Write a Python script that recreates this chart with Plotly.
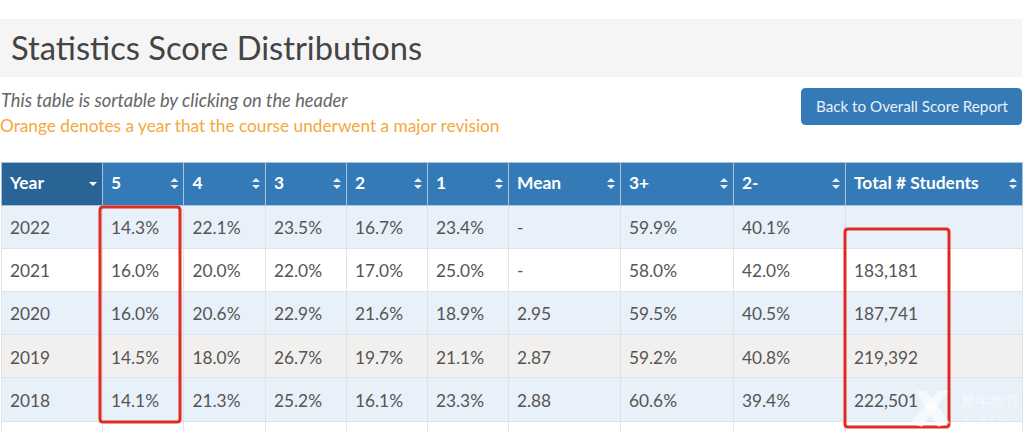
import plotly.graph_objs as go

W = 1024
H = 431

# table contents
headers = ["Year", "5", "4", "3", "2", "1", "Mean", "3+", "2-", "Total # Students"]
years = ["2022", "2021", "2020", "2019", "2018", ""]
score_5 = ["14.3%", "16.0%", "16.0%", "14.5%", "14.1%", ""]
score_4 = ["22.1%", "20.0%", "20.6%", "18.0%", "21.3%", ""]
score_3 = ["23.5%", "22.0%", "22.9%", "26.7%", "25.2%", ""]
score_2 = ["16.7%", "17.0%", "21.6%", "19.7%", "16.1%", ""]
score_1 = ["23.4%", "25.0%", "18.9%", "21.1%", "23.3%", ""]
means = ["-", "-", "2.95", "2.87", "2.88", ""]
pass_rate = ["59.9%", "58.0%", "59.5%", "59.2%", "60.6%", ""]
fail_rate = ["40.1%", "42.0%", "40.5%", "40.8%", "39.4%", ""]
students = ["", "183,181", "187,741", "219,392", "222,501", ""]
columns = [years, score_5, score_4, score_3, score_2, score_1, means, pass_rate, fail_rate, students]

col_widths = [101, 81.5, 81.5, 81, 81, 81, 112, 113, 112, 177]
row_colors = ["#e8f0f9", "#ffffff", "#e8f0f9", "#f1f0ee", "#e8f0f9", "#ffffff"]

TEXT = "#555555"
FONT = "Lato"
CLEAR = "rgba(0,0,0,0)"


# pixel positions from the top left -> paper coords
def px(x):
    return x / W


def py(y):
    return 1 - y / H


def rect(x0, y0, x1, y1, **kw):
    return dict(type="rect", xref="paper", yref="paper",
                x0=px(x0), x1=px(x1), y0=py(y0), y1=py(y1), **kw)


def label(x, y, text, size, color, **kw):
    return dict(xref="paper", yref="paper", x=px(x), y=py(y), text=text,
                showarrow=False, xanchor="left", yanchor="middle",
                font=dict(family=FONT, size=size, color=color), **kw)


def rounded(x0, y0, x1, y1, r):
    p = (f"M {px(x0 + r)} {py(y0)} L {px(x1 - r)} {py(y0)} "
         f"Q {px(x1)} {py(y0)} {px(x1)} {py(y0 + r)} L {px(x1)} {py(y1 - r)} "
         f"Q {px(x1)} {py(y1)} {px(x1 - r)} {py(y1)} L {px(x0 + r)} {py(y1)} "
         f"Q {px(x0)} {py(y1)} {px(x0)} {py(y1 - r)} L {px(x0)} {py(y0 + r)} "
         f"Q {px(x0)} {py(y0)} {px(x0 + r)} {py(y0)} Z")
    return p


def triangle(cx, cy, half, height):
    # height > 0 points up
    return (f"M {px(cx - half)} {py(cy)} L {px(cx + half)} {py(cy)} "
            f"L {px(cx)} {py(cy - height)} Z")


def path_shape(path, **kw):
    return dict(type="path", xref="paper", yref="paper", path=path, **kw)


# colours and grid lines only
grid_table = go.Table(
    domain=dict(x=[px(1), px(1022)], y=[0, py(162)]),
    columnwidth=col_widths,
    header=dict(
        values=[""] * 10,
        height=43,
        fill_color=["#2a6496"] + ["#337ab7"] * 9,
        line=dict(color="#a9c4dd", width=1),
    ),
    cells=dict(
        values=[[""] * 6] * 10,
        height=43.2,
        fill_color=[row_colors] * 10,
        line=dict(color="#dfe3e8", width=1),
    ),
)

# the text sits in its own clear table, plotly keeps cell text near the top of the row
text_table = go.Table(
    domain=dict(x=[px(2), px(1023)], y=[0, py(164)]),
    columnwidth=col_widths,
    header=dict(
        values=[f"<b>{h}</b>" for h in headers],
        height=49,
        align="left",
        fill_color=CLEAR,
        line=dict(color=CLEAR, width=0),
        font=dict(family=FONT, size=17.4, color="#ffffff"),
    ),
    cells=dict(
        values=columns,
        height=43.2,
        align="left",
        fill_color=CLEAR,
        line=dict(color=CLEAR, width=0),
        font=dict(family=FONT, size=17.3, color=TEXT),
    ),
)

fig = go.Figure(data=[grid_table, text_table])

shapes = [
    rect(0, 19, 1022, 77, fillcolor="#f5f5f5", line_width=0, layer="below"),
    path_shape(rounded(801, 88, 1022, 125, 5), fillcolor="#337ab7", line_width=0),
]

# sort arrows in the header
edges = [1]
for w in col_widths:
    edges.append(edges[-1] + w)
for i in range(10):
    cx = edges[i + 1] - 9
    if i == 0:
        shapes.append(path_shape(triangle(cx, 182, 4, -4), fillcolor="#ffffff", line_width=0))
    else:
        shapes.append(path_shape(triangle(cx, 182, 4, 4), fillcolor="#e6eef6", line_width=0))
        shapes.append(path_shape(triangle(cx, 185, 4, -4), fillcolor="#e6eef6", line_width=0))

# red hand-drawn boxes
shapes.append(path_shape(rounded(100, 207, 180, 422, 3), line=dict(color="#e02b20", width=3)))
shapes.append(path_shape(rounded(845, 229, 949, 427, 3), line=dict(color="#e02b20", width=3)))

# watermark logo
shapes.append(path_shape(f"M {px(916)} {py(391)} L {px(926)} {py(391)} L {px(950)} {py(423)} L {px(938)} {py(427)} Z",
                         fillcolor="rgba(255,255,255,0.6)", line_width=0))
shapes.append(path_shape(f"M {px(948)} {py(391)} L {px(938)} {py(391)} L {px(910)} {py(423)} L {px(922)} {py(427)} Z",
                         fillcolor="rgba(255,255,255,0.6)", line_width=0))

annotations = [
    label(9, 47, "Statistics Score Distributions", 32.7, "#444444"),
    label(-1, 100, "<i>This table is sortable by clicking on the header</i>", 18.3, "#666666"),
    label(-2, 125, "Orange denotes a year that the course underwent a major revision", 17.25, "#f5a83c"),
    label(814, 106, "Back to Overall Score Report", 15.2, "#e8f1f8"),
    label(957, 401, "<b>犀牛教育</b>", 15, "rgba(255,255,255,0.45)"),
    label(961, 419, "X  -  N  E  W", 8, "rgba(255,255,255,0.45)"),
]

fig.update_layout(
    width=W,
    height=H,
    margin=dict(l=0, r=0, t=0, b=0),
    paper_bgcolor="#ffffff",
    shapes=shapes,
    annotations=annotations,
)

fig.write_html("out.html", config=dict(displayModeBar=False),
               post_script="document.body.style.margin = '0';")
